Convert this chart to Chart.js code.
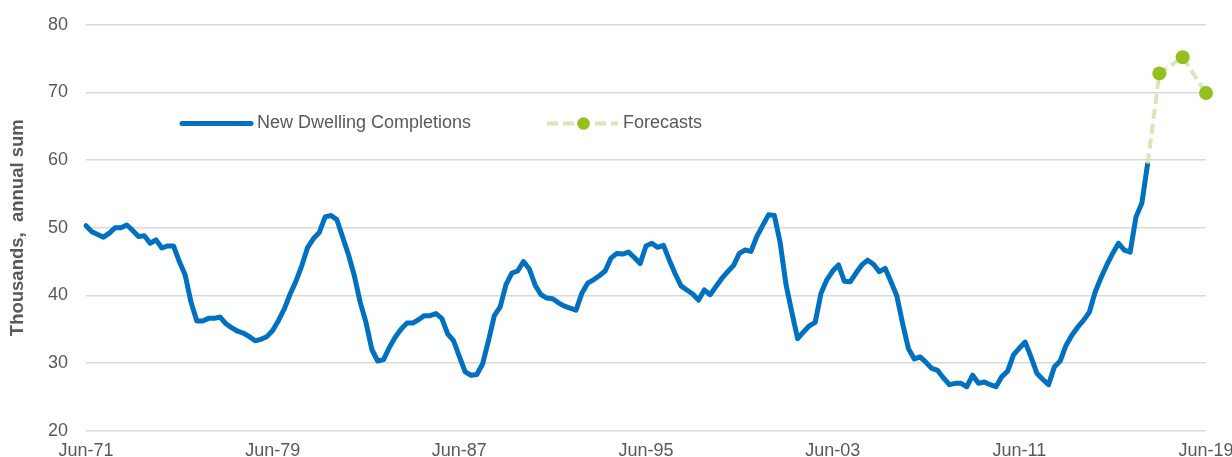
<!DOCTYPE html>
<html>
<head>
<meta charset="utf-8">
<script src="https://cdn.jsdelivr.net/npm/chart.js@4.4.1/dist/chart.umd.min.js"></script>
<style>
  html, body { margin: 0; padding: 0; background: #fff; }
  #wrap { position: relative; width: 1232px; height: 457px; }
</style>
</head>
<body>
<div id="wrap"><canvas id="chart" width="1232" height="457"></canvas></div>
<script>
// quarterly, Jun-71 .. Dec-16 (thousands, annual sum)
const completions = [
  50.3, 49.4, 49.0, 48.6, 49.2, 50.0, 50.0, 50.4, 49.6, 48.7,
  48.8, 47.7, 48.2, 47.0, 47.3, 47.3, 45.0, 43.0, 39.0, 36.2,
  36.2, 36.6, 36.6, 36.8, 35.8, 35.2, 34.7, 34.4, 33.9, 33.3,
  33.5, 33.9, 34.8, 36.3, 38.0, 40.2, 42.1, 44.4, 47.1, 48.4,
  49.3, 51.6, 51.8, 51.2, 48.6, 46.0, 42.9, 39.0, 36.0, 32.0,
  30.3, 30.5, 32.3, 33.8, 35.0, 35.9, 35.9, 36.4, 37.0, 37.0,
  37.3, 36.6, 34.3, 33.3, 31.0, 28.7, 28.2, 28.3, 29.9, 33.3,
  37.0, 38.3, 41.6, 43.3, 43.6, 45.0, 43.9, 41.5, 40.1, 39.6,
  39.5, 38.9, 38.4, 38.1, 37.8, 40.3, 41.8, 42.3, 42.9, 43.6,
  45.5, 46.2, 46.1, 46.4, 45.6, 44.7, 47.3, 47.7, 47.1, 47.4,
  45.2, 43.2, 41.4, 40.8, 40.2, 39.3, 40.8, 40.1, 41.3, 42.5,
  43.5, 44.4, 46.2, 46.7, 46.5, 48.7, 50.3, 51.9, 51.8, 47.8,
  41.6, 37.5, 33.6, 34.6, 35.5, 36.0, 40.3, 42.3, 43.6, 44.5,
  42.1, 42.0, 43.3, 44.5, 45.2, 44.6, 43.5, 44.0, 42.0, 39.9,
  35.8, 32.1, 30.6, 30.9, 30.1, 29.2, 28.9, 27.8, 26.8, 27.0,
  27.0, 26.5, 28.2, 27.0, 27.2, 26.8, 26.5, 28.0, 28.8, 31.2,
  32.2, 33.1, 30.9, 28.5, 27.6, 26.8, 29.4, 30.3, 32.6, 34.1,
  35.3, 36.3, 37.5, 40.5, 42.6, 44.5, 46.2, 47.7, 46.7, 46.4,
  51.6, 53.6, 59.5
];

const forecastDates = ["Jun-17", "Jun-18", "Jun-19"];
const forecastValues = [72.8, 75.2, 69.9];

const quarterMonths = ["Jun", "Sep", "Dec", "Mar"];
const firstYear = 71;
const quarterCount = 193; // Jun-71 .. Jun-19
const yTicks = [20, 30, 40, 50, 60, 70, 80];

const labels = [];
for (let i = 0; i < quarterCount; i++) {
  const yy = (firstYear + Math.floor((i + 1) / 4)) % 100;
  labels.push(`${quarterMonths[i % 4]}-${String(yy).padStart(2, "0")}`);
}

// forecast series joins on to the last actual quarter
const lastIdx = completions.length - 1;
const forecastSeries = labels.map(() => null);
forecastSeries[lastIdx] = completions[lastIdx];
forecastDates.forEach((d, k) => {
  forecastSeries[labels.indexOf(d)] = forecastValues[k];
});
const forecastRadius = forecastSeries.map((v, i) => (v === null || i === lastIdx ? 0 : 7));

const textColor = "#595959";
const blue = "#0070C0";
const green = "#93C01F";
const greenDash = "#D6E9B5";
const fontFamily = '"Liberation Sans", Arial, sans-serif';

const legendItems = [
  { text: "New Dwelling Completions", x0: 182, x1: 251, tx: 257, style: "solid" },
  { text: "Forecasts", x0: 547, x1: 618, tx: 623, style: "dash" },
];

const insideLegend = {
  id: "insideLegend",
  afterDraw(chart) {
    const ctx = chart.ctx;
    const y = 123.5;
    ctx.save();
    legendItems.forEach((item) => {
      if (item.style === "solid") {
        ctx.strokeStyle = blue;
        ctx.lineWidth = 5;
        ctx.lineCap = "round";
        ctx.setLineDash([]);
      } else {
        ctx.strokeStyle = greenDash;
        ctx.lineWidth = 4;
        ctx.lineCap = "butt";
        ctx.setLineDash([11, 5]);
      }
      ctx.beginPath();
      ctx.moveTo(item.x0, y);
      ctx.lineTo(item.x1, y);
      ctx.stroke();
      if (item.style === "dash") {
        ctx.fillStyle = green;
        ctx.beginPath();
        ctx.arc((item.x0 + item.x1) / 2 + 1, y, 6.3, 0, Math.PI * 2);
        ctx.fill();
      }
      ctx.setLineDash([]);
      ctx.fillStyle = textColor;
      ctx.font = `18px ${fontFamily}`;
      ctx.textBaseline = "middle";
      ctx.textAlign = "left";
      ctx.fillText(item.text, item.tx, y);
    });
    ctx.restore();
  },
};

// keep edge tick labels from pushing the plot area inwards
const noEdgePadding = (scale) => {
  scale.paddingLeft = 0;
  scale.paddingRight = 0;
  scale.paddingTop = 0;
  scale.paddingBottom = 0;
};

new Chart(document.getElementById("chart"), {
  type: "line",
  data: {
    labels: labels,
    datasets: [
      {
        label: "New Dwelling Completions",
        data: completions,
        borderColor: blue,
        borderWidth: 5,
        borderJoinStyle: "round",
        borderCapStyle: "round",
        pointRadius: 0,
        tension: 0,
        order: 2,
      },
      {
        label: "Forecasts",
        data: forecastSeries,
        borderColor: greenDash,
        borderWidth: 4,
        borderDash: [10, 5],
        spanGaps: true,
        pointRadius: forecastRadius,
        pointBackgroundColor: green,
        pointBorderColor: green,
        pointBorderWidth: 0,
        tension: 0,
        order: 1,
      },
    ],
  },
  options: {
    responsive: false,
    animation: false,
    layout: { autoPadding: false, padding: { top: 24.7, right: 26, bottom: 0, left: 0 } },
    plugins: {
      legend: { display: false },
      tooltip: { enabled: false },
    },
    scales: {
      x: {
        type: "category",
        offset: false,
        grid: { display: false, drawTicks: false },
        border: { display: false },
        ticks: {
          autoSkip: false,
          maxRotation: 0,
          minRotation: 0,
          padding: 10,
          color: textColor,
          font: { family: fontFamily, size: 18 },
          callback: (value, index) => (index % 32 === 0 ? labels[index] : null),
        },
        afterFit: (scale) => {
          noEdgePadding(scale);
          scale.height = 26.3;
        },
      },
      y: {
        min: 20,
        max: 80,
        afterBuildTicks: (scale) => { scale.ticks = yTicks.map((v) => ({ value: v })); },
        grid: { color: "#D9D9D9", lineWidth: 1.5, drawTicks: false },
        border: { display: false },
        ticks: {
          padding: 18,
          color: textColor,
          font: { family: fontFamily, size: 18 },
        },
        title: {
          display: true,
          text: "Thousands,  annual sum",
          color: textColor,
          font: { family: fontFamily, size: 18.5, weight: "bold" },
          padding: { top: 7, bottom: 0 },
        },
        afterFit: (scale) => {
          noEdgePadding(scale);
          scale.width = 86;
        },
      },
    },
  },
  plugins: [insideLegend],
});
</script>
</body>
</html>
